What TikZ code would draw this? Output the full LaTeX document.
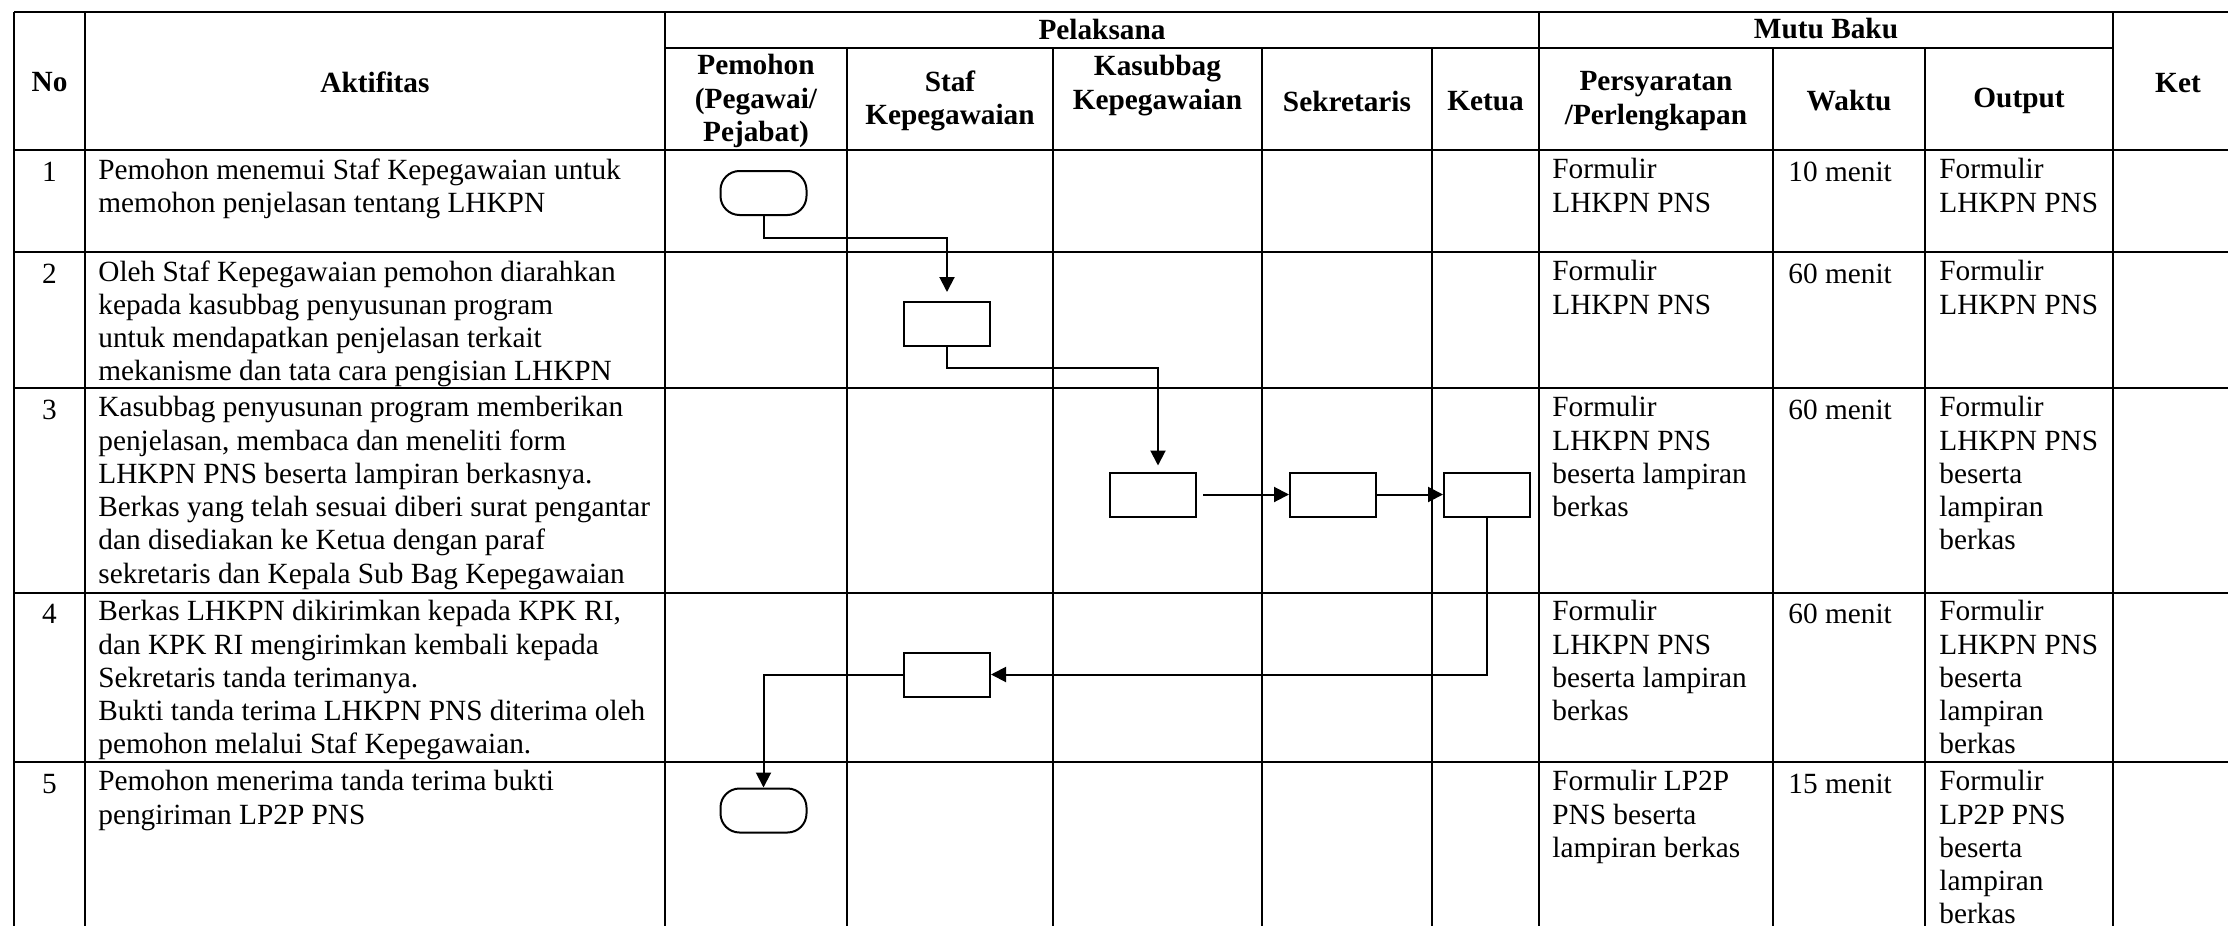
\documentclass[tikz,border=0pt]{standalone}
\usepackage{fontspec}
\setmainfont{Liberation Serif}
\usetikzlibrary{arrows.meta}

\begin{document}
\begin{tikzpicture}[x=0.5pt,y=-0.5pt,
    teks/.style={font=\fontsize{14.65}{16.65}\selectfont, inner sep=0pt},
    isi/.style={teks, anchor=north west, align=left, execute at begin node=\strut},
    nomor/.style={isi, anchor=north, align=center},
    judul/.style={teks, font=\fontsize{14.65}{16.65}\selectfont\bfseries, align=center},
    garish/.style={line width=1pt},
    garisv/.style={line width=0.65pt},
    proses/.style={draw, line width=1pt, minimum width=43pt, minimum height=22pt, inner sep=0pt},
    terminal/.style={proses, rounded corners=9.5pt},
    alur/.style={line width=1pt, -{Triangle[length=7.5pt,width=7.5pt]}}]
    \useasboundingbox (0,0) rectangle (2228,926);

    % garis tabel
    \draw[garish] (14,12) -- (2228,12);
    \draw[garish] (665,48) -- (2113,48);
    \draw[garish] (14,150) -- (2228,150);
    \draw[garish] (14,252) -- (2228,252);
    \draw[garish] (14,388) -- (2228,388);
    \draw[garish] (14,593) -- (2228,593);
    \draw[garish] (14,762) -- (2228,762);
    \draw[garisv] (14,12) -- (14,926);
    \draw[garisv] (85,12) -- (85,926);
    \draw[garisv] (665,12) -- (665,926);
    \draw[garisv] (1539,12) -- (1539,926);
    \draw[garisv] (2113,12) -- (2113,926);
    \draw[garisv] (847,48) -- (847,926);
    \draw[garisv] (1053,48) -- (1053,926);
    \draw[garisv] (1262,48) -- (1262,926);
    \draw[garisv] (1432,48) -- (1432,926);
    \draw[garisv] (1773,48) -- (1773,926);
    \draw[garisv] (1925,48) -- (1925,926);

    % kepala tabel
    \node[judul] (no) at (49.5,82) {No};
    \node[judul] (akt) at (375,82) {Aktifitas};
    \node[judul] (pel) at (1102,29) {Pelaksana};
    \node[judul] (mutu) at (1826,29) {Mutu Baku};
    \node[judul] (ket) at (2178,83) {Ket};
    \node[judul] (pem) at (756,101) {Pemohon\\(Pegawai/\\Pejabat)};
    \node[judul] (staf) at (950,101) {Staf\\Kepegawaian};
    \node[judul, anchor=north] (kasub) at (1157.5,55) {Kasubbag\\Kepegawaian};
    \node[judul] (sek) at (1347,101) {Sekretaris};
    \node[judul] (ketua) at (1485.5,101) {Ketua};
    \node[judul] (syarat) at (1656,101) {Persyaratan\\/Perlengkapan};
    \node[judul] (waktu) at (1849,101) {Waktu};
    \node[judul] (output) at (2019,101) {Output};

    % baris 1
    \node[nomor] (n1) at (49.5,158) {1};
    \node[isi] (a1) at (98,158) {Pemohon menemui Staf Kepegawaian untuk\\memohon penjelasan tentang LHKPN};
    \node[isi] (s1) at (1552,158) {Formulir\\LHKPN PNS};
    \node[isi] (w1) at (1788,158) {10 menit};
    \node[isi] (o1) at (1939,158) {Formulir\\LHKPN PNS};

    % baris 2
    \node[nomor] (n2) at (49.5,260) {2};
    \node[isi] (a2) at (98,260) {Oleh Staf Kepegawaian pemohon diarahkan\\kepada kasubbag penyusunan program\\untuk mendapatkan penjelasan terkait\\mekanisme dan tata cara pengisian LHKPN};
    \node[isi] (s2) at (1552,260) {Formulir\\LHKPN PNS};
    \node[isi] (w2) at (1788,260) {60 menit};
    \node[isi] (o2) at (1939,260) {Formulir\\LHKPN PNS};

    % baris 3
    \node[nomor] (n3) at (49.5,396) {3};
    \node[isi] (a3) at (98,396) {Kasubbag penyusunan program memberikan\\penjelasan, membaca dan meneliti form\\LHKPN PNS beserta lampiran berkasnya.\\Berkas yang telah sesuai diberi surat pengantar\\dan disediakan ke Ketua dengan paraf\\sekretaris dan Kepala Sub Bag Kepegawaian};
    \node[isi] (s3) at (1552,396) {Formulir\\LHKPN PNS\\beserta lampiran\\berkas};
    \node[isi] (w3) at (1788,396) {60 menit};
    \node[isi] (o3) at (1939,396) {Formulir\\LHKPN PNS\\beserta\\lampiran\\berkas};

    % baris 4
    \node[nomor] (n4) at (49.5,600) {4};
    \node[isi] (a4) at (98,600) {Berkas LHKPN dikirimkan kepada KPK RI,\\dan KPK RI mengirimkan kembali kepada\\Sekretaris tanda terimanya.\\Bukti tanda terima LHKPN PNS diterima oleh\\pemohon melalui Staf Kepegawaian.};
    \node[isi] (s4) at (1552,600) {Formulir\\LHKPN PNS\\beserta lampiran\\berkas};
    \node[isi] (w4) at (1788,600) {60 menit};
    \node[isi] (o4) at (1939,600) {Formulir\\LHKPN PNS\\beserta\\lampiran\\berkas};

    % baris 5
    \node[nomor] (n5) at (49.5,770) {5};
    \node[isi] (a5) at (98,770) {Pemohon menerima tanda terima bukti\\pengiriman LP2P PNS};
    \node[isi] (s5) at (1552,770) {Formulir LP2P\\PNS beserta\\lampiran berkas};
    \node[isi] (w5) at (1788,770) {15 menit};
    \node[isi] (o5) at (1939,770) {Formulir\\LP2P PNS\\beserta\\lampiran\\berkas};

    % bagan alir
    \node[terminal] (t1) at (763.5,193) {};
    \node[proses] (p1) at (947,324) {};
    \node[proses] (p2) at (1153,494.5) {};
    \node[proses] (p3) at (1333,494.5) {};
    \node[proses] (p4) at (1487,494.5) {};
    \node[proses] (p5) at (947,674.5) {};
    \node[terminal] (t2) at (763.5,810.5) {};
    \draw[alur, shorten >=4.5pt] (t1.south) -- ++(0,22) -| (p1.north);
    \draw[alur, shorten >=3pt] (p1.south) -- ++(0,21) -| ([xshift=2.5pt]p2.north);
    \draw[alur, shorten <=3pt] (p2.east) -- (p3.west);
    \draw[alur] (p3.east) -- (p4.west);
    \draw[alur] (p4.south) |- (p5.east);
    \draw[alur] (p5.west) -| (t2.north);
\end{tikzpicture}
\end{document}
